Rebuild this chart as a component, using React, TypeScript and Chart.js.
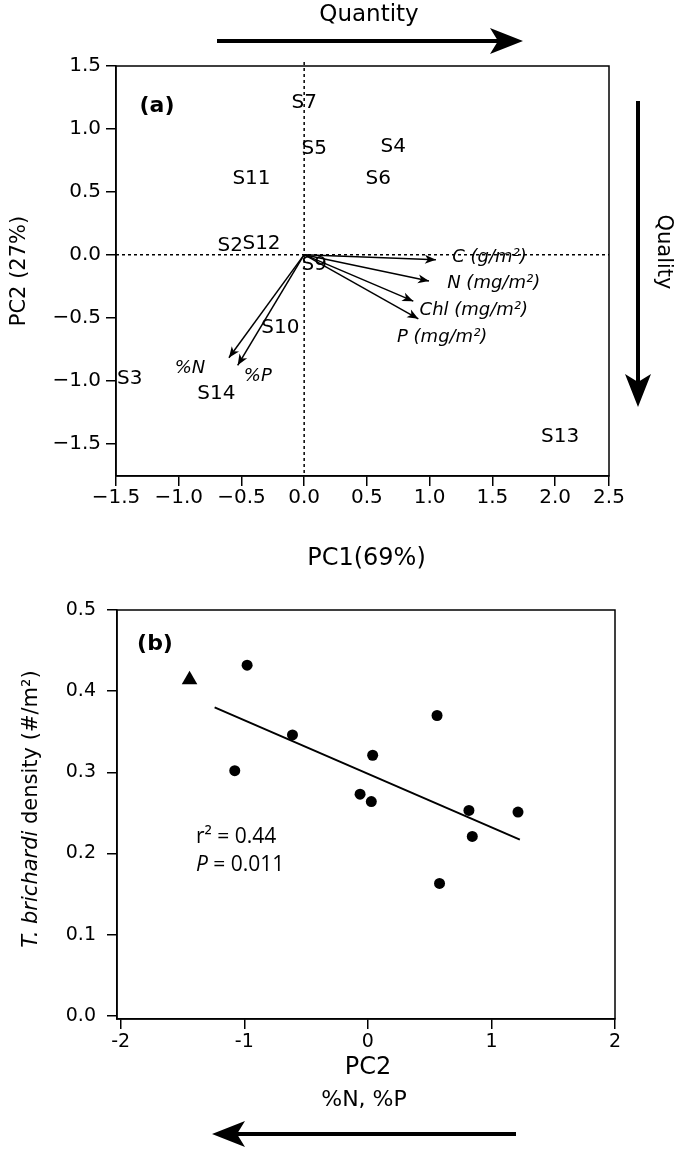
import React, { useEffect, useRef } from "react";
import { Chart, registerables } from "chart.js";

Chart.register(...registerables);

const FAM = "'DejaVu Sans', sans-serif";

// ---------- Panel (a): PCA biplot ----------
const siteNames = ["S7", "S5", "S4", "S6", "S11", "S2", "S12", "S9", "S10", "S3", "S14", "S13"];
const siteX = [0.0, 0.08, 0.71, 0.59, -0.42, -0.59, -0.34, 0.08, -0.19, -1.39, -0.7, 2.04];
const siteY = [1.21, 0.84, 0.86, 0.6, 0.6, 0.07, 0.09, -0.08, -0.58, -0.99, -1.11, -1.45];

const loadingNames = ["C (g/m²)", "N (mg/m²)", "Chl (mg/m²)", "P (mg/m²)", "%N", "%P"];
const loadingX = [1.05, 0.995, 0.87, 0.91, -0.6, -0.53];
const loadingY = [-0.04, -0.21, -0.37, -0.51, -0.82, -0.88];
const loadingLabelX = [1.18, 1.14, 0.92, 0.74, -0.91, -0.37];
const loadingLabelY = [-0.02, -0.23, -0.44, -0.66, -0.9, -0.97];
const loadingLabelAnchor = ["left", "left", "left", "left", "center", "center"];

const pc1TickValues = [-1.5, -1.0, -0.5, 0.0, 0.5, 1.0, 1.5, 2.0, 2.5];
const pc2TickValues = [-1.5, -1.0, -0.5, 0.0, 0.5, 1.0, 1.5];

// ---------- Panel (b): density vs PC2 ----------
const triPC2 = [-1.443];
const triDensity = [0.414];
const dotPC2 = [-0.977, -0.61, -1.077, 0.039, 0.56, -0.063, 0.028, 0.818, 1.215, 0.845, 0.58];
const dotDensity = [0.432, 0.346, 0.302, 0.321, 0.37, 0.273, 0.264, 0.253, 0.251, 0.221, 0.163];
const fitPC2 = [-1.24, 1.23];
const fitDensity = [0.38, 0.217];
const bXTicks = [-2, -1, 0, 1, 2];
const bYTicks = [0, 0.1, 0.2, 0.3, 0.4, 0.5];

const fmtMinus = (v: number) => (v < 0 ? "\u2212" : "") + Math.abs(v).toFixed(1);

function arrowHead(ctx: CanvasRenderingContext2D, x1: number, y1: number, x2: number, y2: number, len: number, half: number, notch: number) {
  const a = Math.atan2(y2 - y1, x2 - x1);
  const c = Math.cos(a), s = Math.sin(a);
  const bx = x2 - len * c, by = y2 - len * s;
  ctx.beginPath();
  ctx.moveTo(x2, y2);
  ctx.lineTo(bx - half * s, by + half * c);
  ctx.lineTo(x2 - (len - notch) * c, y2 - (len - notch) * s);
  ctx.lineTo(bx + half * s, by - half * c);
  ctx.closePath();
  ctx.fill();
}

function bigArrow(ctx: CanvasRenderingContext2D, x1: number, y1: number, x2: number, y2: number) {
  const len = 33, half = 13, notch = 8, w = 4;
  const a = Math.atan2(y2 - y1, x2 - x1);
  const c = Math.cos(a), s = Math.sin(a);
  ctx.save();
  ctx.strokeStyle = "#000";
  ctx.fillStyle = "#000";
  ctx.lineWidth = w;
  ctx.beginPath();
  ctx.moveTo(x1, y1);
  ctx.lineTo(x2 - (len - notch - 2) * c, y2 - (len - notch - 2) * s);
  ctx.stroke();
  arrowHead(ctx, x1, y1, x2, y2, len, half, notch);
  ctx.restore();
}

const axisCommon = {
  grid: { drawOnChartArea: false, drawTicks: true, tickLength: 10, color: "#000", lineWidth: 1.5 },
  border: { display: true, color: "#000", width: 1.5 },
};

const plugA = {
  id: "plugA",
  beforeDatasetsDraw(chart: any) {
    const { ctx, chartArea: ca, scales } = chart;
    const x0 = scales.x.getPixelForValue(0);
    const y0 = scales.y.getPixelForValue(0);
    ctx.save();
    ctx.strokeStyle = "#000";
    ctx.lineWidth = 1.5;
    ctx.setLineDash([3, 3]);
    ctx.beginPath();
    ctx.moveTo(x0, ca.top - 4);
    ctx.lineTo(x0, ca.bottom);
    ctx.moveTo(ca.left, y0);
    ctx.lineTo(ca.right, y0);
    ctx.stroke();
    ctx.restore();
  },
  afterDatasetsDraw(chart: any) {
    const { ctx, chartArea: ca, scales } = chart;
    ctx.save();
    ctx.strokeStyle = "#000";
    ctx.lineWidth = 1.5;
    ctx.strokeRect(ca.left, ca.top, ca.right - ca.left, ca.bottom - ca.top);
    ctx.fillStyle = "#000";
    // site labels
    const meta = chart.getDatasetMeta(0);
    ctx.font = `20px ${FAM}`;
    ctx.textAlign = "center";
    ctx.textBaseline = "middle";
    meta.data.forEach((el: any, i: number) => ctx.fillText(siteNames[i], el.x, el.y));
    // arrow heads
    loadingNames.forEach((_, i) => {
      const m = chart.getDatasetMeta(i + 1);
      const p0 = m.data[0], p1 = m.data[1];
      arrowHead(ctx, p0.x, p0.y, p1.x, p1.y, 11, 4.5, 3);
    });
    // loading labels
    ctx.font = `italic 18px ${FAM}`;
    loadingNames.forEach((n, i) => {
      ctx.textAlign = loadingLabelAnchor[i] as CanvasTextAlign;
      ctx.fillText(n, scales.x.getPixelForValue(loadingLabelX[i]), scales.y.getPixelForValue(loadingLabelY[i]));
    });
    // panel tag
    ctx.textAlign = "center";
    ctx.font = `bold 22px ${FAM}`;
    ctx.fillText("(a)", ca.left + 41, ca.top + 40);
    // axis titles
    ctx.font = `24px ${FAM}`;
    ctx.fillText("PC1(69%)", (ca.left + ca.right) / 2 + 4, ca.bottom + 83);
    ctx.save();
    ctx.translate(25, (ca.top + ca.bottom) / 2);
    ctx.rotate(-Math.PI / 2);
    ctx.textBaseline = "alphabetic";
    ctx.font = `21px ${FAM}`;
    ctx.fillText("PC2 (27%)", 0, 0);
    ctx.restore();
    // Quantity
    ctx.font = `23px ${FAM}`;
    ctx.fillText("Quantity", 369, 15);
    bigArrow(ctx, 217, 41, 523, 41);
    // Quality
    ctx.save();
    ctx.translate(663, 252);
    ctx.rotate(Math.PI / 2);
    ctx.font = `21px ${FAM}`;
    ctx.fillText("Quality", 0, 0);
    ctx.restore();
    bigArrow(ctx, 638, 101, 638, 407);
    ctx.restore();
  },
};

const plugB = {
  id: "plugB",
  afterDatasetsDraw(chart: any) {
    const { ctx, chartArea: ca } = chart;
    ctx.save();
    ctx.strokeStyle = "#000";
    ctx.lineWidth = 1.5;
    ctx.strokeRect(ca.left, ca.top, ca.right - ca.left, ca.bottom - ca.top);
    ctx.fillStyle = "#000";
    ctx.textAlign = "center";
    ctx.textBaseline = "middle";
    ctx.font = `bold 22px ${FAM}`;
    ctx.fillText("(b)", ca.left + 38, ca.top + 34);
    // stats
    ctx.textAlign = "left";
    const sx = ca.left + 79;
    ctx.font = "21px 'Open Sans', sans-serif";
    ctx.fillText("r\u00B2 = 0.44", sx, 837);
    ctx.font = "italic 21px 'Open Sans', sans-serif";
    ctx.fillText("P", sx, 865);
    const pw = ctx.measureText("P").width;
    ctx.font = "21px 'Open Sans', sans-serif";
    ctx.fillText(" = 0.011", sx + pw, 865);
    // titles
    ctx.textAlign = "center";
    ctx.font = `24px ${FAM}`;
    ctx.fillText("PC2", (ca.left + ca.right) / 2 + 2, 1068);
    ctx.font = `22px ${FAM}`;
    ctx.fillText("%N, %P", 364, 1100);
    bigArrow(ctx, 516, 1134, 212, 1134);
    // y title (rotated, mixed italic)
    ctx.save();
    ctx.translate(37, 809);
    ctx.rotate(-Math.PI / 2);
    ctx.textBaseline = "alphabetic";
    ctx.textAlign = "left";
    const itFont = `italic 21px ${FAM}`;
    const rgFont = `21px ${FAM}`;
    const parts: [string, string][] = [["T. brichardi", itFont], [" density (#/m²)", rgFont]];
    let total = 0;
    parts.forEach(([t, f]) => { ctx.font = f; total += ctx.measureText(t).width; });
    let x = -total / 2;
    parts.forEach(([t, f]) => { ctx.font = f; ctx.fillText(t, x, 0); x += ctx.measureText(t).width; });
    ctx.restore();
    ctx.restore();
  },
};

export default function App() {
  const refA = useRef<HTMLCanvasElement>(null);
  const refB = useRef<HTMLCanvasElement>(null);

  useEffect(() => {
    const chartA = new Chart(refA.current as HTMLCanvasElement, {
      type: "scatter",
      data: {
        datasets: [
          {
            label: "sites",
            data: siteX.map((x, i) => ({ x, y: siteY[i] })),
            pointRadius: 0,
            pointHoverRadius: 0,
          },
          ...loadingX.map((lx, i) => ({
            label: loadingNames[i],
            data: [{ x: 0, y: 0 }, { x: lx, y: loadingY[i] }],
            showLine: true,
            borderColor: "#000",
            borderWidth: 1.5,
            pointRadius: 0,
            pointHoverRadius: 0,
          })),
        ],
      } as any,
      options: {
        responsive: false,
        animation: false,
        events: [],
        layout: { padding: { left: 0, top: 66, right: 76, bottom: 649 } },
        plugins: { legend: { display: false }, tooltip: { enabled: false } },
        scales: {
          x: {
            type: "linear",
            min: -1.5,
            max: 2.43,
            afterBuildTicks: (s: any) => { s.ticks = pc1TickValues.map((v) => ({ value: Math.min(v, s.max) })); },
            afterFit: (s: any) => { s.height = 40; },
            ticks: { callback: (_v: any, i: number) => fmtMinus(pc1TickValues[i]), font: { family: FAM, size: 20 }, color: "#000", padding: 0, maxRotation: 0, autoSkip: false },
            ...axisCommon,
          },
          y: {
            type: "linear",
            min: -1.76,
            max: 1.5,
            afterBuildTicks: (s: any) => { s.ticks = pc2TickValues.map((v) => ({ value: v })); },
            afterFit: (s: any) => { s.width = 116; },
            ticks: { callback: (_v: any, i: number) => fmtMinus(pc2TickValues[i]), font: { family: FAM, size: 20 }, color: "#000", padding: 5, autoSkip: false },
            ...axisCommon,
          },
        },
      } as any,
      plugins: [plugA],
    });

    const chartB = new Chart(refB.current as HTMLCanvasElement, {
      type: "scatter",
      data: {
        datasets: [
          {
            label: "sites",
            data: dotPC2.map((x, i) => ({ x, y: dotDensity[i] })),
            pointRadius: 5.5,
            pointHoverRadius: 5.5,
            backgroundColor: "#000",
            borderWidth: 0,
          },
          {
            label: "reference",
            data: triPC2.map((x, i) => ({ x, y: triDensity[i] })),
            pointStyle: "triangle",
            pointRadius: 9,
            pointHoverRadius: 9,
            backgroundColor: "#000",
            borderWidth: 0,
          },
          {
            label: "fit",
            data: fitPC2.map((x, i) => ({ x, y: fitDensity[i] })),
            showLine: true,
            borderColor: "#000",
            borderWidth: 2,
            pointRadius: 0,
            pointHoverRadius: 0,
          },
        ],
      } as any,
      options: {
        responsive: false,
        animation: false,
        events: [],
        layout: { padding: { left: 0, top: 610, right: 70, bottom: 106 } },
        plugins: { legend: { display: false }, tooltip: { enabled: false } },
        scales: {
          x: {
            type: "linear",
            min: -2.03,
            max: 2,
            afterBuildTicks: (s: any) => { s.ticks = bXTicks.map((v) => ({ value: v })); },
            afterFit: (s: any) => { s.height = 40; },
            ticks: { callback: (_v: any, i: number) => String(bXTicks[i]), font: { family: FAM, size: 19 }, color: "#000", padding: 2, maxRotation: 0, autoSkip: false },
            ...axisCommon,
          },
          y: {
            type: "linear",
            min: -0.004,
            max: 0.5,
            afterBuildTicks: (s: any) => { s.ticks = bYTicks.map((v) => ({ value: v })); },
            afterFit: (s: any) => { s.width = 117; },
            ticks: { callback: (_v: any, i: number) => bYTicks[i].toFixed(1), font: { family: FAM, size: 19 }, color: "#000", padding: 11, autoSkip: false },
            ...axisCommon,
          },
        },
      } as any,
      plugins: [plugB],
    });

    return () => {
      chartA.destroy();
      chartB.destroy();
    };
  }, []);

  return (
    <div style={{ position: "fixed", left: 0, top: 0, width: 685, height: 1165, background: "#fff" }}>
      <canvas ref={refA} width={685} height={1165} style={{ position: "absolute", left: 0, top: 0 }} />
      <canvas ref={refB} width={685} height={1165} style={{ position: "absolute", left: 0, top: 0 }} />
    </div>
  );
}
